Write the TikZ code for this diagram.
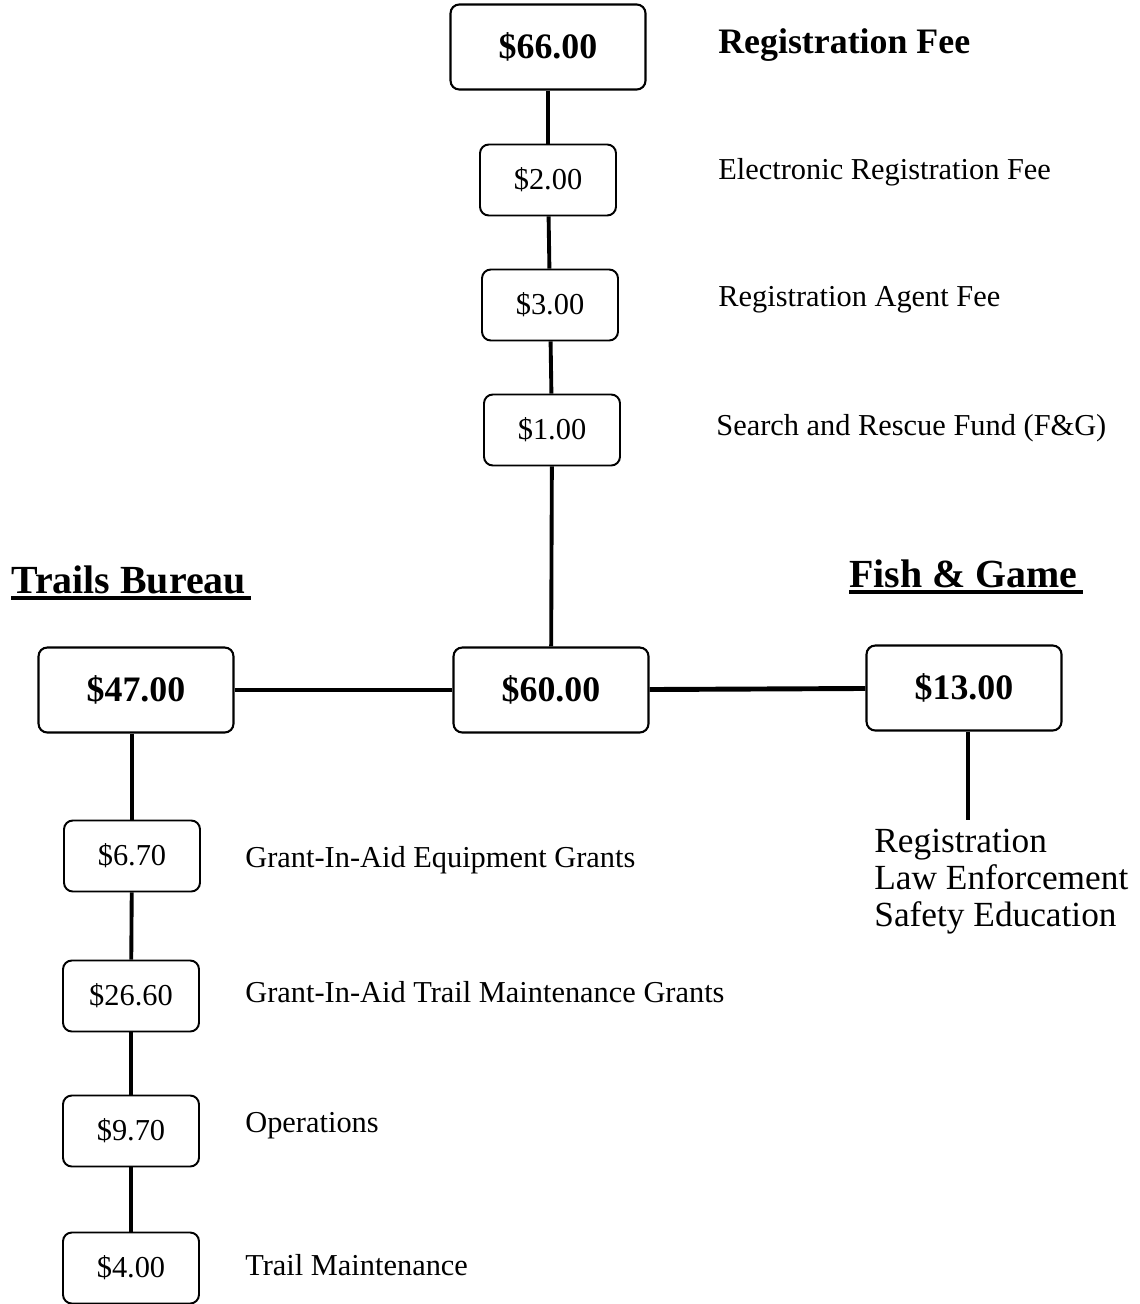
\documentclass[tikz,border=0pt]{standalone}
\usepackage{fontspec}
\setmainfont{Liberation Serif}
\usepackage{tikz}
\usetikzlibrary{positioning}

\tikzset{
  bigbox/.style={draw=black, line width=1.2pt, rounded corners=5pt, fill=white,
    minimum width=3.9cm, minimum height=1.7cm, inner sep=0pt,
    font=\fontsize{20.4}{24}\selectfont\bfseries},
  smallbox/.style={draw=black, line width=1.1pt, rounded corners=5pt, fill=white,
    minimum width=2.72cm, minimum height=1.42cm, inner sep=0pt,
    font=\fontsize{17.3}{20}\selectfont},
  lbl/.style={anchor=west, inner sep=0pt, font=\fontsize{17.3}{20}\selectfont},
  head/.style={anchor=south west, inner sep=0pt, font=\fontsize{22.7}{26}\selectfont\bfseries},
  link/.style={line width=2.2pt},
  hlink/.style={line width=2.8pt}
}

\begin{document}
\begin{tikzpicture}[x=0.02cm, y=-0.02cm]
	\useasboundingbox (0,0) rectangle (1139,1304);
	% top column
	\node[bigbox] (fee) at (548,47) {\$66.00};
	\node[smallbox] (elec) at (548,180) {\$2.00};
	\node[smallbox] (agent) at (550,305) {\$3.00};
	\node[smallbox] (sar) at (552,430) {\$1.00};
	\node[lbl, font=\fontsize{20.4}{24}\selectfont\bfseries] (feetxt) at (718,45) {Registration Fee};
	\node[lbl] (electxt) at (718,172) {Electronic Registration Fee};
	\node[lbl] (agenttxt) at (718,300) {Registration Agent Fee};
	\node[lbl] (sartxt) at (716,428) {Search and Rescue Fund (F\&G)};
	% middle row
	\node[bigbox] (total) at (551,690) {\$60.00};
	\node[bigbox] (trails) at (136,690) {\$47.00};
	\node[bigbox] (fg) at (964,688) {\$13.00};
	\node[head] (trailshd) at (11,594) {Trails Bureau};
	\node[head] (fghd) at (849,588) {Fish \& Game};
	\draw[line width=1.8pt] (trailshd.south west) ++(0,4) -- ++(240,0);
	\draw[line width=1.8pt] (fghd.south west) ++(0,4) -- ++(234,0);
	% left column
	\node[smallbox] (equip) at (132,856) {\$6.70};
	\node[smallbox] (tmgrant) at (131,996) {\$26.60};
	\node[smallbox] (ops) at (131,1131) {\$9.70};
	\node[smallbox] (tmaint) at (131,1268) {\$4.00};
	\node[lbl] (equiptxt) at (245,860) {Grant-In-Aid Equipment Grants};
	\node[lbl] (tmgranttxt) at (245,992) {Grant-In-Aid Trail Maintenance Grants};
	\node[lbl] (opstxt) at (245,1126) {Operations};
	\node[lbl] (tmainttxt) at (245,1265) {Trail Maintenance};
	% fish and game uses
	\coordinate (fgend) at (968,820);
	\node[anchor=north west, inner sep=0pt, align=left,
	  font=\fontsize{20.1}{21}\selectfont] (fguse) at (874,829) {Registration\\Law Enforcement\\Safety Education};
	% links
	\draw[link] (fee) -- (elec);
	\draw[link] (elec) -- (agent);
	\draw[link] (agent) -- (sar);
	\draw[link] (sar) -- (total);
	\draw[hlink] (trails) -- (total);
	\draw[hlink] (total) -- (fg);
	\draw[link] (fg.south -| fgend) -- (fgend);
	\draw[link] (trails.south -| equip) -- (equip);
	\draw[link] (equip) -- (tmgrant);
	\draw[link] (tmgrant) -- (ops);
	\draw[link] (ops) -- (tmaint);
\end{tikzpicture}
\end{document}
